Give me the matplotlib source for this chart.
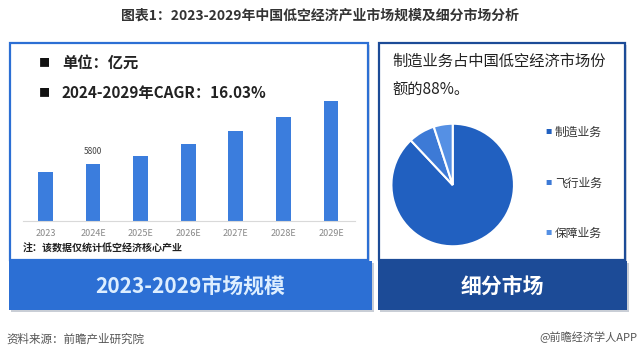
import matplotlib
matplotlib.use('Agg')
import matplotlib.pyplot as plt
from matplotlib.patches import Rectangle

plt.rcParams['font.family'] = ['Noto Sans CJK SC', 'DejaVu Sans']
plt.rcParams['axes.unicode_minus'] = False

# data
years = ['2023', '2024E', '2025E', '2026E', '2027E', '2028E', '2029E']
market = [5000, 5800, 6650, 7800, 9150, 10550, 12250]
labelled = {1: '5800'}

segments = ['制造业务', '飞行业务', '保障业务']
shares = [88, 7, 5]

C_BAR = '#3B7DDD'
C_LEFT = '#2C6FD4'
C_RIGHT = '#1C4B97'
C_PIE = ['#2160C0', '#3D7AD6', '#5590E4']
C_TXT = '#222222'

W, H = 640, 359
fig = plt.figure(figsize=(W / 100, H / 100), dpi=100)
fig.patch.set_facecolor('white')

# pixel canvas for frames and text
bg = fig.add_axes([0, 0, 1, 1])
bg.set_xlim(0, W)
bg.set_ylim(H, 0)
bg.axis('off')


def frame(x0, y0, x1, y1, ec):
    bg.add_patch(Rectangle((x0 + 2, y0 + 2), x1 - x0, y1 - y0,
                           facecolor='#d9dde3', edgecolor='none', zorder=1))
    bg.add_patch(Rectangle((x0, y0), x1 - x0, y1 - y0,
                           facecolor='white', edgecolor=ec, lw=1.6, zorder=2))


def banner(x0, y0, x1, y1, fc, label, tc):
    bg.add_patch(Rectangle((x0 + 2, y0 + 2), x1 - x0, y1 - y0,
                           facecolor='#c9ced6', edgecolor='none', zorder=1))
    bg.add_patch(Rectangle((x0, y0), x1 - x0, y1 - y0,
                           facecolor=fc, edgecolor='none', zorder=2))
    bg.text((x0 + x1) / 2, (y0 + y1) / 2 + 1, label, fontsize=15,
            fontweight='bold', color=tc, ha='center', va='center', zorder=3)


# title
bg.text(320, 16, '图表1：2023-2029年中国低空经济产业市场规模及细分市场分析',
        fontsize=10, fontweight='bold', color='#333333', ha='center', va='center')

# left panel
frame(10, 43, 368, 260, C_LEFT)
banner(9, 261, 372, 310, C_LEFT, '2023-2029市场规模', '#DDEEFF')

bg.text(44, 63, '■', fontsize=8, color='#111111', ha='center', va='center', zorder=3)
bg.text(62, 63, '单位：亿元', fontsize=11, fontweight='bold', color=C_TXT,
        ha='left', va='center', zorder=3)
bg.text(44, 93, '■', fontsize=8, color='#111111', ha='center', va='center', zorder=3)
bg.text(62, 93, '2024-2029年CAGR：16.03%', fontsize=11, fontweight='bold',
        color=C_TXT, ha='left', va='center', zorder=3)
bg.text(23, 249, '注：该数据仅统计低空经济核心产业', fontsize=7.2, fontweight='bold',
        color=C_TXT, ha='left', va='center', zorder=3)

# right panel
frame(379, 43, 625, 260, C_RIGHT)
banner(378, 261, 627, 310, C_RIGHT, '细分市场', 'white')

bg.text(392, 61, '制造业务占中国低空经济市场份', fontsize=11, color=C_TXT,
        ha='left', va='center', zorder=3)
bg.text(392, 90, '额的88%。', fontsize=11, color=C_TXT,
        ha='left', va='center', zorder=3)

# source lines
bg.text(6, 339, '资料来源：前瞻产业研究院', fontsize=8.3, color='#555555',
        ha='left', va='center')
bg.text(637, 337, '@前瞻经济学人APP', fontsize=8, color='#555555',
        ha='right', va='center')

# bar chart
ax_l, ax_r, ax_b = 23, 355, 221
ymax = 13000
ax_h = ymax / 101.75
ax = fig.add_axes([ax_l / W, (H - ax_b) / H, (ax_r - ax_l) / W, ax_h / H])
ax.set_zorder(5)
ax.patch.set_alpha(0)
xs = list(range(len(years)))
ax.bar(xs, market, width=0.31, color=C_BAR)
for i, txt in labelled.items():
    ax.text(xs[i], market[i] + 800, txt, fontsize=6, color='#444444',
            ha='center', va='bottom')
ax.set_xlim(-0.473, 6.504)
ax.set_ylim(0, ymax)
ax.set_xticks(xs)
ax.set_xticklabels(years, fontsize=6.5, color='#888888')
ax.tick_params(axis='x', length=0, pad=6)
ax.set_yticks([])
for s in ['top', 'right', 'left']:
    ax.spines[s].set_visible(False)
ax.spines['bottom'].set_color('#d9d9d9')
ax.spines['bottom'].set_linewidth(0.8)

# pie chart
cx, cy, r = 452.7, 185, 62.5
pa = fig.add_axes([(cx - r) / W, (H - cy - r) / H, 2 * r / W, 2 * r / H])
pa.set_zorder(5)
pa.pie(shares, colors=C_PIE, startangle=90, counterclock=False,
       wedgeprops=dict(edgecolor='white', linewidth=1.5))
pa.set_xlim(-1.02, 1.02)
pa.set_ylim(-1.02, 1.02)
pa.set_aspect('auto')

for name, col, y in zip(segments, C_PIE, [132, 183, 233]):
    bg.text(549, y, '■', fontsize=4.5, color=col, ha='center', va='center', zorder=3)
    bg.text(555, y, name, fontsize=8.5, color='#333333', ha='left', va='center', zorder=3)

plt.savefig('out.png', dpi=100, facecolor='white')
